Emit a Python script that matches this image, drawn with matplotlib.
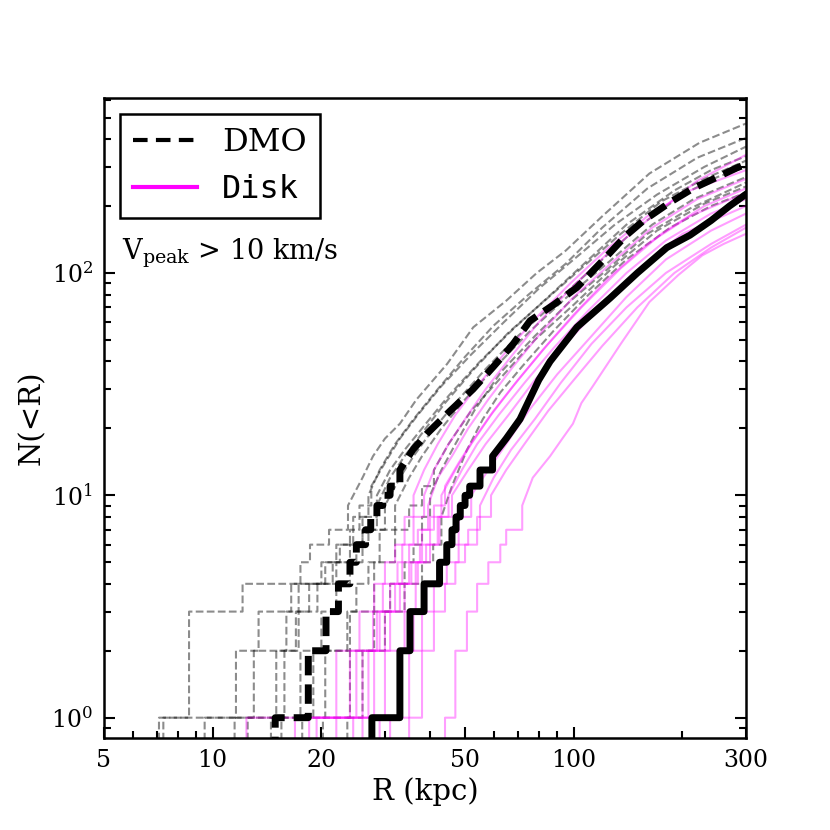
import numpy as np
import matplotlib
matplotlib.use("Agg")
import matplotlib.pyplot as plt
from matplotlib.lines import Line2D
from matplotlib.ticker import NullFormatter

plt.rcParams['font.family'] = 'serif'
plt.rcParams['font.serif'] = ['DejaVu Serif']
plt.rcParams['mathtext.fontset'] = 'dejavuserif'

# cumulative subhalo counts N(<R)
# thick curves: average over hosts
dmo_mean_r = [14.9, 18.4, 20.6, 22.3, 24.0, 25.0, 26.5, 27.4, 28.5, 29.6, 31.0, 33.0, 35.8,
              39.3, 45.5, 52.6, 60, 68, 75.7, 88, 102, 118, 140, 156, 185, 214, 250, 283, 300]
dmo_mean_n = [1, 2, 3, 4, 5, 6, 7, 8, 9, 10, 11, 13, 16,
              19, 24, 30, 38, 48, 61, 72, 86, 110, 148, 172, 208, 240, 270, 297, 308]

disk_mean_r = [27.6, 33.0, 35.2, 38.5, 42.5, 44.5, 46.0, 47.2, 48.5, 50.0, 51.5, 55, 59.6,
               65, 71, 80, 86, 102, 126, 150, 181, 210, 240, 270, 300]
disk_mean_n = [1, 2, 3, 4, 5, 6, 7, 8, 9, 10, 11, 13, 15,
               18, 22, 33, 40, 57, 77, 100, 130, 148, 172, 200, 226]

# thin curves: individual hosts
dmo_hosts_r = [
    [7.1, 8.6, 12.1, 17.5, 18.6, 21, 23.7, 26, 27.8, 30, 33, 36.7, 44.6, 52.7, 65, 79, 95, 120, 162, 223, 300],
    [7.3, 11.6, 13.4, 16.5, 20, 22, 24.5, 27, 29, 32, 36, 42, 50, 60, 75, 95, 120, 160, 220, 300],
    [11.5, 15.8, 17, 19.5, 22, 24, 26, 28.5, 31, 34, 38, 45, 55, 68, 85, 110, 140, 190, 240, 300],
    [12.5, 15, 17.3, 21.5, 25, 27, 30, 33, 36, 40, 47, 57, 70, 90, 115, 150, 200, 250, 300],
    [15.5, 19, 23.6, 25, 27, 29, 32, 35, 38, 43, 50, 60, 75, 95, 125, 165, 215, 300],
    [17.7, 20.5, 24, 28, 32, 35, 38, 41, 45, 52, 62, 78, 100, 130, 170, 230, 300],
    [23.6, 26, 30, 34, 38, 40.8, 43, 46, 50.6, 56, 62.6, 72, 88, 110, 140, 185, 240, 300],
    [9.5, 13, 16, 18.5, 20.5, 22.5, 24, 25.5, 27.5, 30, 33, 37, 43, 52, 64, 80, 100, 130, 170, 230, 300],
    [20.2, 24, 28, 31, 34, 36, 38, 40, 43, 47, 53, 63, 78, 98, 125, 160, 210, 300],
    [14.5, 17.5, 20, 22, 24, 26, 28.5, 31, 34, 38, 44, 53, 66, 83, 105, 135, 175, 230, 300],
]
dmo_hosts_n = [
    [1, 3, 4, 5, 6, 7, 9, 12, 15, 18, 21, 27, 39, 57, 75, 100, 126, 180, 280, 385, 470],
    [1, 2, 3, 4, 5, 6, 8, 10, 13, 17, 22, 30, 42, 58, 80, 110, 160, 240, 330, 405],
    [1, 2, 3, 4, 5, 6, 8, 10, 13, 16, 20, 28, 40, 56, 78, 115, 165, 235, 290, 335],
    [1, 2, 4, 5, 6, 7, 9, 12, 15, 19, 26, 37, 52, 75, 108, 160, 225, 270, 300],
    [1, 2, 3, 4, 5, 7, 9, 12, 15, 20, 27, 37, 54, 77, 112, 165, 215, 270],
    [1, 2, 3, 5, 7, 9, 11, 13, 17, 24, 33, 50, 72, 108, 155, 205, 245],
    [1, 2, 3, 4, 5, 6, 8, 11, 16, 22, 29, 38, 55, 80, 115, 160, 200, 230],
    [1, 2, 3, 4, 5, 6, 7, 9, 11, 14, 18, 23, 31, 43, 60, 85, 115, 165, 225, 300, 370],
    [1, 2, 3, 4, 5, 6, 8, 10, 13, 17, 24, 36, 52, 75, 105, 150, 195, 255],
    [1, 2, 3, 4, 5, 7, 9, 12, 15, 19, 26, 37, 54, 75, 105, 150, 210, 265, 320],
]

disk_hosts_r = [
    [12.4, 22, 25.5, 28, 30, 32, 34, 36, 38.5, 42, 47, 54, 64, 78, 98, 125, 160, 210, 300],
    [16.9, 24, 27.8, 29.6, 32.5, 35, 37, 39.5, 42, 46, 51, 58, 68, 82, 100, 128, 165, 220, 300],
    [19.4, 25, 29, 32, 35, 38, 41, 44, 48, 53, 60, 70, 85, 105, 135, 175, 230, 300],
    [24.5, 28, 31, 34, 37, 40, 42.5, 45, 49, 54, 62, 73, 88, 110, 140, 180, 240, 300],
    [26, 30, 34, 36.5, 39, 42, 46, 51, 57, 66, 78, 95, 120, 155, 200, 300],
    [29, 33, 36, 39, 42, 45, 48, 52, 58, 65, 75, 90, 112, 140, 180, 240, 300],
    [31, 35, 38, 41, 44.5, 48, 51, 55, 60, 67, 78, 92, 112, 140, 180, 240, 300],
    [44, 47, 50.6, 54, 58, 62.6, 65, 72, 77, 86, 93, 99.5, 105, 113, 135, 162, 195, 227, 260, 300],
    [22, 27, 30, 33, 35.5, 37.5, 40, 43, 47, 52, 59, 68, 82, 100, 125, 160, 210, 300],
    [35, 38, 41, 44, 47, 50, 54, 59, 65, 73, 85, 100, 120, 150, 190, 240, 300],
    [18.5, 26, 28.5, 31, 33.5, 36, 38.5, 41, 45, 50, 57, 67, 80, 100, 128, 165, 220, 300],
]
disk_hosts_n = [
    [1, 2, 3, 4, 5, 6, 8, 10, 13, 17, 23, 31, 43, 62, 90, 130, 180, 235, 290],
    [1, 2, 3, 4, 5, 6, 7, 9, 12, 15, 20, 27, 38, 55, 78, 112, 160, 215, 265],
    [1, 2, 3, 4, 5, 7, 9, 11, 14, 18, 24, 33, 48, 70, 105, 150, 200, 240],
    [1, 2, 3, 4, 5, 6, 8, 10, 13, 17, 23, 32, 46, 68, 100, 140, 185, 215],
    [1, 2, 3, 5, 6, 8, 10, 13, 17, 23, 33, 48, 72, 108, 150, 200],
    [1, 2, 3, 4, 5, 6, 8, 10, 13, 17, 24, 35, 52, 78, 115, 155, 185],
    [1, 2, 3, 4, 5, 6, 7, 9, 12, 16, 22, 32, 48, 70, 100, 135, 165],
    [1, 2, 3, 4, 5, 6, 7, 9, 12, 15, 18, 21, 26, 31, 48, 74, 98, 120, 135, 150],
    [1, 2, 3, 4, 5, 6, 8, 10, 13, 17, 23, 31, 45, 65, 95, 135, 180, 230],
    [1, 2, 3, 4, 5, 6, 8, 10, 13, 17, 24, 33, 47, 70, 100, 130, 160],
    [1, 2, 3, 4, 6, 8, 10, 13, 17, 22, 30, 42, 60, 88, 128, 180, 260, 340],
]

xticks = [5, 10, 20, 50, 100, 300]

N_ZERO = 0.5   # stands for "no subhalo yet" (below the axis)
MAX_JUMP = 2   # staircase where the count goes up by one or two


def stairs(r, n):
    xs, ys = [r[0]], [N_ZERO]
    for i in range(len(r)):
        if i > 0 and n[i] - n[i - 1] <= MAX_JUMP:
            xs.append(r[i])
            ys.append(n[i - 1])
        xs.append(r[i])
        ys.append(n[i])
    return xs, ys


fig = plt.figure(figsize=(8.3, 8.3), dpi=100)
ax = fig.add_axes([0.1253, 0.1108, 0.7735, 0.7711])

for r, n in zip(dmo_hosts_r, dmo_hosts_n):
    xs, ys = stairs(r, n)
    ax.plot(xs, ys, color='k', alpha=0.45, lw=1.5, ls='--')

for r, n in zip(disk_hosts_r, disk_hosts_n):
    xs, ys = stairs(r, n)
    ax.plot(xs, ys, color='magenta', alpha=0.38, lw=1.5)

xs, ys = stairs(dmo_mean_r, dmo_mean_n)
ax.plot(xs, ys, color='k', lw=5, ls='--', dashes=(2.8, 1.3))
xs, ys = stairs(disk_mean_r, disk_mean_n)
ax.plot(xs, ys, color='k', lw=5)

ax.set_xscale('log')
ax.set_yscale('log')
ax.set_xlim(5, 300)
ax.set_ylim(0.81, 612)

ax.set_xticks(xticks)
ax.set_xticklabels([str(t) for t in xticks])
ax.xaxis.set_minor_formatter(NullFormatter())

ax.tick_params(which='both', direction='in', top=False, right=True, labelsize=17, width=1.5)
ax.tick_params(which='major', length=8, pad=8)
ax.tick_params(which='minor', length=5)
for sp in ax.spines.values():
    sp.set_linewidth(1.8)

ax.set_xlabel('R (kpc)', fontsize=21)
ax.set_ylabel('N(<R)', fontsize=21)

handles = [Line2D([], [], color='k', lw=3, ls='--', dashes=(3.5, 2)),
           Line2D([], [], color='magenta', lw=3)]
leg = ax.legend(handles, ['DMO', 'Disk'], loc='upper left', fontsize=23,
                fancybox=False, edgecolor='k', framealpha=1, handlelength=2)
leg.get_frame().set_linewidth(1.8)
leg.get_texts()[1].set_family('DejaVu Sans Mono')

ax.text(0.028, 0.747, r'$\mathrm{V_{peak}}$ > 10 km/s', transform=ax.transAxes,
        fontsize=19.5, va='baseline', ha='left')

fig.savefig('out.png', dpi=100)
